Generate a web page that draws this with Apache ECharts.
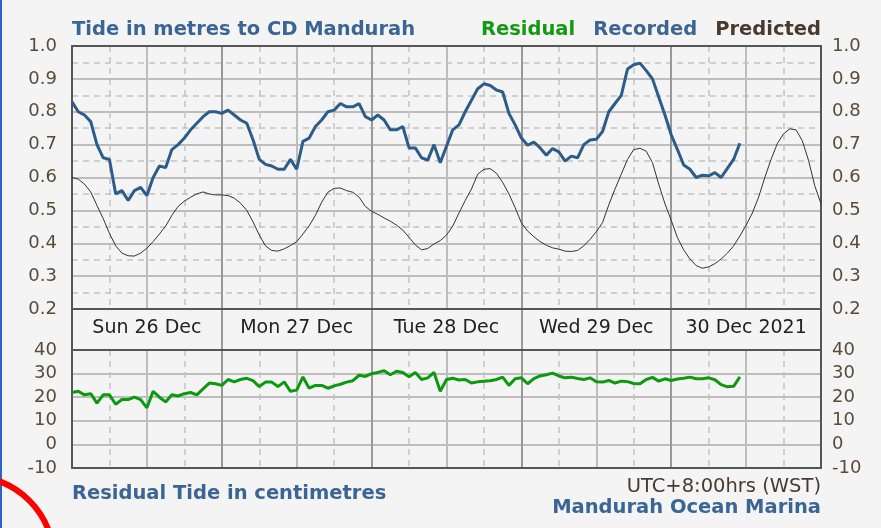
<!DOCTYPE html>
<html>
<head>
<meta charset="utf-8">
<script src="https://cdn.jsdelivr.net/npm/echarts@6/dist/echarts.min.js"></script>
<style>
  html, body { margin: 0; padding: 0; background: #f4f4f4; }
  #main { width: 881px; height: 528px; }
</style>
</head>
<body>
<div id="main"></div>
<script>
// hours from Sun 26 Dec 00:00 (WST), one value per hour
var dayLabels = ["Sun 26 Dec", "Mon 27 Dec", "Tue 28 Dec", "Wed 29 Dec", "30 Dec 2021"];

var recorded = [
  0.83, 0.80, 0.79, 0.77, 0.70, 0.66, 0.655, 0.55, 0.56, 0.53,
  0.56, 0.57, 0.545, 0.60, 0.635, 0.63, 0.685, 0.70, 0.72, 0.745,
  0.765, 0.785, 0.80, 0.80, 0.795, 0.805, 0.79, 0.775, 0.765, 0.715,
  0.655, 0.64, 0.635, 0.625, 0.625, 0.655, 0.625, 0.71, 0.72, 0.755,
  0.775, 0.80, 0.805, 0.825, 0.815, 0.815, 0.825, 0.785, 0.775, 0.79,
  0.775, 0.745, 0.745, 0.755, 0.69, 0.69, 0.66, 0.653, 0.70, 0.645,
  0.695, 0.745, 0.76, 0.80, 0.835, 0.87, 0.885, 0.88, 0.866, 0.86,
  0.795, 0.76, 0.72, 0.698, 0.708, 0.69, 0.668, 0.688, 0.678, 0.65,
  0.665, 0.66, 0.70, 0.714, 0.716, 0.74, 0.80, 0.825, 0.85, 0.93,
  0.943, 0.948, 0.925, 0.90, 0.845, 0.79, 0.73, 0.685, 0.638, 0.625,
  0.60, 0.607, 0.605, 0.615, 0.60, 0.628, 0.655, 0.704
];

var predicted = [
  0.600, 0.595, 0.580, 0.556, 0.515, 0.475, 0.430, 0.392, 0.370, 0.362,
  0.361, 0.370, 0.385, 0.405, 0.428, 0.452, 0.485, 0.512, 0.528, 0.540,
  0.550, 0.556, 0.550, 0.547, 0.547, 0.545, 0.537, 0.522, 0.500, 0.465,
  0.425, 0.392, 0.378, 0.376, 0.383, 0.393, 0.405, 0.428, 0.453, 0.485,
  0.525, 0.555, 0.567, 0.568, 0.560, 0.555, 0.540, 0.512, 0.497, 0.488,
  0.477, 0.467, 0.455, 0.440, 0.418, 0.395, 0.380, 0.384, 0.398, 0.408,
  0.425, 0.452, 0.492, 0.530, 0.565, 0.610, 0.625, 0.627, 0.613, 0.585,
  0.550, 0.508, 0.462, 0.437, 0.420, 0.405, 0.394, 0.386, 0.382, 0.376,
  0.375, 0.378, 0.392, 0.412, 0.435, 0.463, 0.517, 0.565, 0.610, 0.655,
  0.685, 0.689, 0.680, 0.645, 0.580, 0.520, 0.470, 0.417, 0.380, 0.352,
  0.332, 0.324, 0.328, 0.338, 0.352, 0.370, 0.392, 0.422, 0.455, 0.492,
  0.540, 0.600, 0.655, 0.703, 0.733, 0.748, 0.745, 0.712, 0.652, 0.575,
  0.520
];

var residual = [
  22, 22.5, 21, 21.5, 17.5, 21, 21, 17, 19, 19,
  20, 19, 15.5, 22.5, 20, 18, 21, 20.5, 21.5, 22,
  21, 23.5, 26, 25.7, 25, 27.5, 26.5, 27.5, 28, 27,
  24.5, 26.4, 26.4, 24.5, 26.5, 22.5, 23, 28.6, 23.8, 25,
  25, 23.8, 24.8, 25.5, 26.4, 27, 29.3, 28.8, 30, 30.5,
  31.2, 29.5, 31, 30.5, 28.6, 30.5, 27.5, 28.2, 30.5, 22.5,
  27.5, 28, 27.3, 27.5, 26, 26.5, 26.8, 27, 27.5, 28.5,
  25, 27.8, 28.2, 25.7, 27.9, 29, 29.5, 30.2, 29, 28.2,
  28.5, 27.9, 27.5, 28.2, 26.5, 26.4, 27.1, 26, 26.8, 26.6,
  25.8, 25.7, 27.5, 28.4, 26.8, 27.8, 27.1, 27.7, 28, 28.5,
  27.8, 27.8, 28.2, 27.4, 25.3, 24.4, 24.6, 28.6
];

function toPairs(arr) {
  return arr.map(function (v, i) { return [i, v]; });
}

var font = 'DejaVu Sans';
var tickColor = '#5c4a38';
var blueText = '#3a6595';
var frame = { color: '#555', width: 2 };
var lightLine = { color: '#bdbdbd', width: 2 };
var dashLine = { color: '#c2c2c2', width: 1.5, type: [6, 5] };
var dayLine = { color: '#999', width: 2 };

function hourAxis(grid, interval, line, minor, pos, label) {
  return {
    type: 'value', gridIndex: grid, min: 0, max: 120, interval: interval, position: pos,
    axisLine: { show: true, onZero: false, lineStyle: frame }, axisTick: { show: false },
    axisLabel: label || { show: false },
    splitLine: { show: true, showMinLine: false, showMaxLine: false, lineStyle: line },
    minorTick: { show: false, splitNumber: 2 },
    minorSplitLine: { show: minor, lineStyle: dashLine }
  };
}

function levelAxis(grid, min, max, interval, pos, fmt, minor) {
  return {
    type: 'value', gridIndex: grid, min: min, max: max, interval: interval, position: pos,
    axisLine: { show: true, onZero: false, lineStyle: frame }, axisTick: { show: false },
    axisLabel: { show: !!fmt, margin: pos === 'left' ? 15 : 11, fontFamily: font, fontSize: 18, color: tickColor,
      formatter: fmt },
    splitLine: { show: pos === 'left' && !!fmt, showMinLine: false, showMaxLine: false, lineStyle: lightLine },
    minorTick: { show: false, splitNumber: 2 },
    minorSplitLine: { show: !!minor, lineStyle: dashLine }
  };
}

var oneDec = function (v) { return v.toFixed(1); };
var plain = function (v) { return String(v); };

var myChart = echarts.init(document.getElementById('main'));

var option = {
  backgroundColor: '#f4f4f4',
  animation: false,
  title: [
    { text: 'Tide in metres to CD Mandurah', left: 72, top: 20, padding: 0,
      textStyle: { fontFamily: font, fontSize: 19.5, fontWeight: 'bold', color: blueText } },
    { text: 'Residual Tide in centimetres', left: 72, top: 484, padding: 0,
      textStyle: { fontFamily: font, fontSize: 19.5, fontWeight: 'bold', color: blueText } },
    { text: 'UTC+8:00hrs (WST)', right: 60, top: 477, padding: 0,
      textStyle: { fontFamily: font, fontSize: 19.5, fontWeight: 'normal', color: '#4a3a2e' } },
    { text: 'Mandurah Ocean Marina', right: 60, top: 498, padding: 0,
      textStyle: { fontFamily: font, fontSize: 19.5, fontWeight: 'bold', color: blueText } }
  ],
  legend: {
    right: 60, top: 20, padding: 0, icon: 'none', itemWidth: 0, itemHeight: 0, itemGap: 13,
    selectedMode: false,
    textStyle: { fontFamily: font, fontSize: 19.5, fontWeight: 'bold' },
    data: [
      { name: 'Residual', textStyle: { color: '#139a13' } },
      { name: 'Recorded', textStyle: { color: '#3d6594' } },
      { name: 'Predicted', textStyle: { color: '#4a3a2e' } }
    ]
  },
  grid: [
    { left: 72, right: 60, top: 46, height: 263 },
    { left: 72, right: 60, top: 309, height: 41 },
    { left: 72, right: 60, top: 350, height: 118 }
  ],
  xAxis: [
    hourAxis(0, 12, lightLine, true, 'bottom', {
      show: true, margin: 10, fontFamily: font, fontSize: 19, color: '#222',
      formatter: function (v) {
        return (v - 12) % 24 === 0 ? dayLabels[(v - 12) / 24] : '';
      }
    }),
    hourAxis(0, 24, dayLine, false, 'top'),
    hourAxis(1, 24, dayLine, false, 'bottom'),
    hourAxis(2, 12, lightLine, true, 'bottom'),
    hourAxis(2, 24, dayLine, false, 'top')
  ],
  yAxis: [
    levelAxis(0, 0.2, 1.0, 0.1, 'left', oneDec, true),
    levelAxis(0, 0.2, 1.0, 0.1, 'right', oneDec, false),
    levelAxis(1, 0, 1, 1, 'left', null, false),
    levelAxis(1, 0, 1, 1, 'right', null, false),
    levelAxis(2, -10, 40, 10, 'left', plain, false),
    levelAxis(2, -10, 40, 10, 'right', plain, false)
  ],
  series: [
    { name: 'Residual', type: 'line', xAxisIndex: 3, yAxisIndex: 4, data: toPairs(residual),
      showSymbol: false, lineStyle: { color: '#0d990d', width: 3 }, itemStyle: { color: '#0d990d' } },
    { name: 'Recorded', type: 'line', xAxisIndex: 0, yAxisIndex: 0, data: toPairs(recorded),
      showSymbol: false, lineStyle: { color: '#2b5c8a', width: 3 }, itemStyle: { color: '#2b5c8a' } },
    { name: 'Predicted', type: 'line', xAxisIndex: 0, yAxisIndex: 0, data: toPairs(predicted),
      showSymbol: false, lineStyle: { color: '#333', width: 1 }, itemStyle: { color: '#333' } }
  ],
  graphic: [
    { type: 'line', shape: { x1: 1, y1: 0, x2: 1, y2: 528 }, style: { stroke: '#2a64c8', lineWidth: 2 } },
    { type: 'circle', shape: { cx: -30, cy: 560, r: 84 }, style: { fill: 'none', stroke: '#f00', lineWidth: 6 } }
  ]
};

myChart.setOption(option);
</script>
</body>
</html>
